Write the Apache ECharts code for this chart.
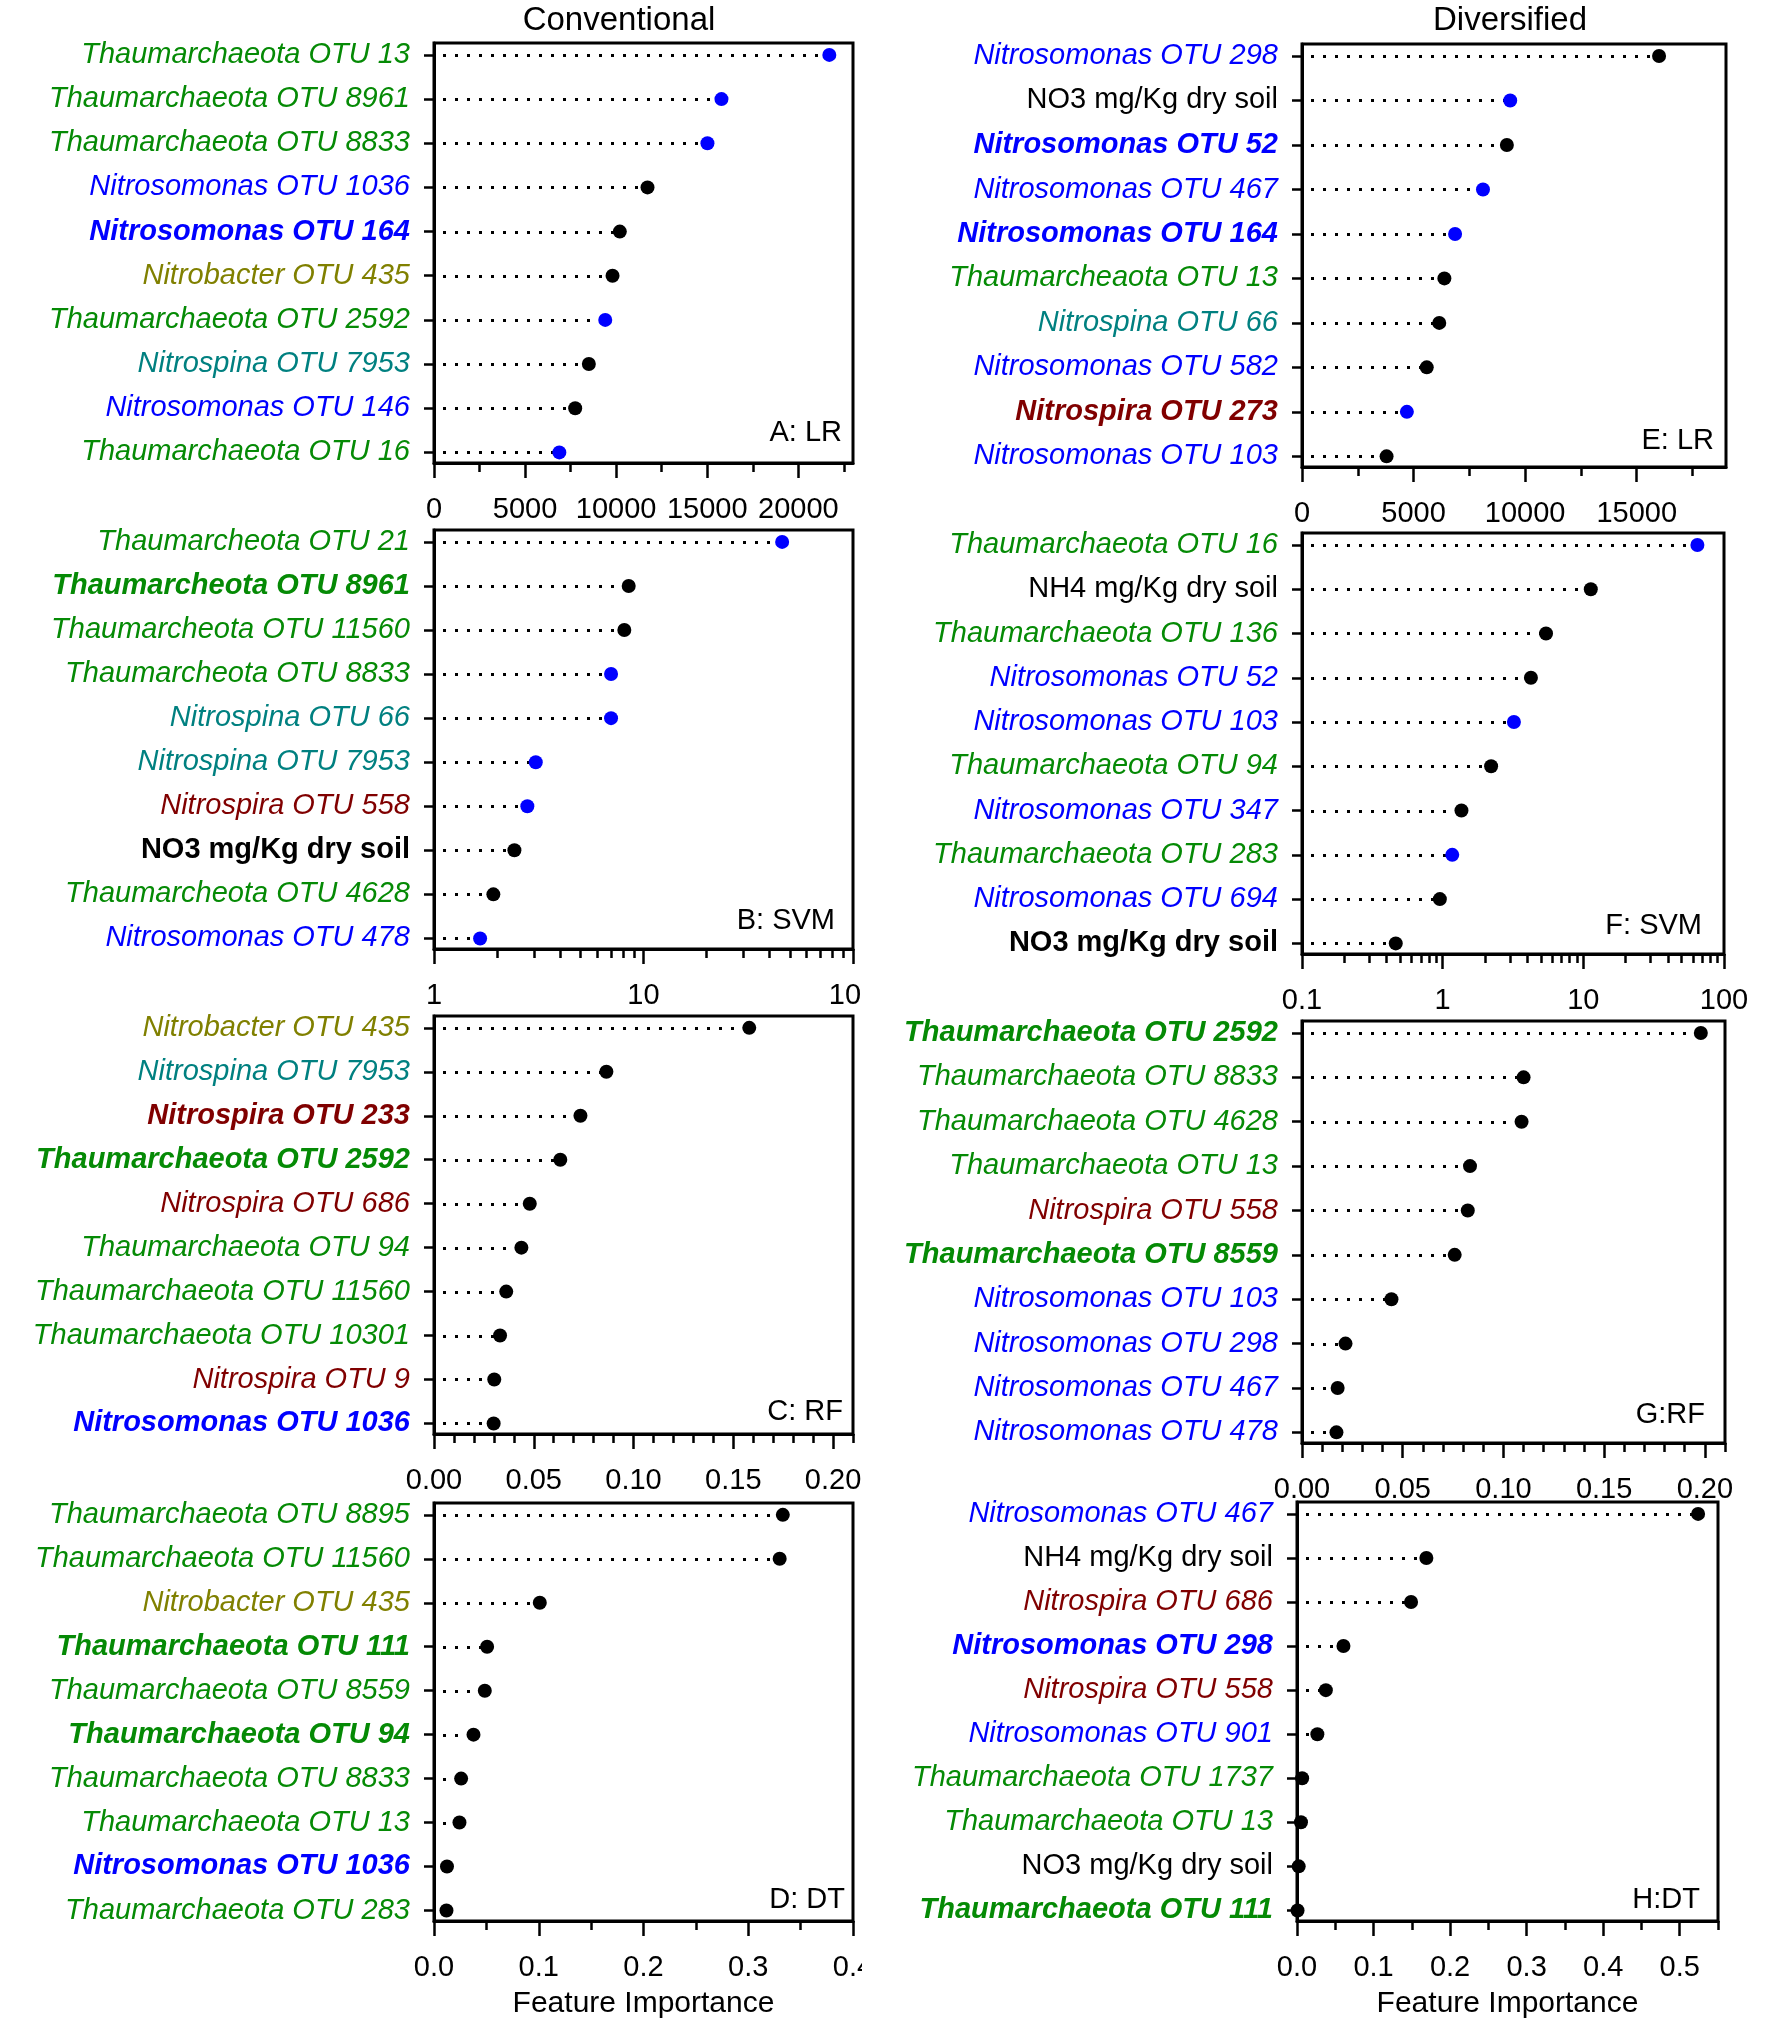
<!DOCTYPE html>
<html><head><meta charset="utf-8">
<script src="https://cdn.jsdelivr.net/npm/echarts@6/dist/echarts.min.js"></script>
<style>html,body{margin:0;padding:0;background:#fff}#c{width:1772px;height:2035px}</style>
</head><body><div id="c"></div>
<script>
// ---------- DATA ----------
// A: Conventional, LR
const labelsA = ['Thaumarchaeota OTU 13','Thaumarchaeota OTU 8961','Thaumarchaeota OTU 8833','Nitrosomonas OTU 1036','Nitrosomonas OTU 164','Nitrobacter OTU 435','Thaumarchaeota OTU 2592','Nitrospina OTU 7953','Nitrosomonas OTU 146','Thaumarchaeota OTU 16'];
const valuesA = [21700,15780,15010,11720,10200,9800,9400,8500,7750,6880];
const dotsA = ['b','b','b','k','k','k','b','k','k','b'];
const boldA = [0,0,0,0,1,0,0,0,0,0];
// E: Diversified, LR
const labelsE = ['Nitrosomonas OTU 298','NO3 mg/Kg dry soil','Nitrosomonas OTU 52','Nitrosomonas OTU 467','Nitrosomonas OTU 164','Thaumarcheaota OTU 13','Nitrospina OTU 66','Nitrosomonas OTU 582','Nitrospira OTU 273','Nitrosomonas OTU 103'];
const valuesE = [16000,9330,9180,8110,6860,6380,6150,5590,4700,3790];
const dotsE = ['k','b','k','b','b','k','k','k','b','k'];
const boldE = [0,0,1,0,1,0,0,0,1,0];
// B: Conventional, SVM (log)
const labelsB = ['Thaumarcheota OTU 21','Thaumarcheota OTU 8961','Thaumarcheota OTU 11560','Thaumarcheota OTU 8833','Nitrospina OTU 66','Nitrospina OTU 7953','Nitrospira OTU 558','NO3 mg/Kg dry soil','Thaumarcheota OTU 4628','Nitrosomonas OTU 478'];
const valuesB = [45.9,8.5,8.1,7.0,7.0,3.06,2.79,2.42,1.92,1.66];
const dotsB = ['b','k','k','b','b','b','b','k','k','b'];
const boldB = [0,1,0,0,0,0,0,1,0,0];
// F: Diversified, SVM (log)
const labelsF = ['Thaumarchaeota OTU 16','NH4 mg/Kg dry soil','Thaumarchaeota OTU 136','Nitrosomonas OTU 52','Nitrosomonas OTU 103','Thaumarchaeota OTU 94','Nitrosomonas OTU 347','Thaumarchaeota OTU 283','Nitrosomonas OTU 694','NO3 mg/Kg dry soil'];
const valuesF = [64.7,11.3,5.43,4.24,3.21,2.21,1.36,1.17,0.955,0.464];
const dotsF = ['b','k','k','k','b','k','k','b','k','k'];
const boldF = [0,0,0,0,0,0,0,0,0,1];
// C: Conventional, RF
const labelsC = ['Nitrobacter OTU 435','Nitrospina OTU 7953','Nitrospira OTU 233','Thaumarchaeota OTU 2592','Nitrospira OTU 686','Thaumarchaeota OTU 94','Thaumarchaeota OTU 11560','Thaumarchaeota OTU 10301','Nitrospira OTU 9','Nitrosomonas OTU 1036'];
const valuesC = [0.158,0.0864,0.0734,0.0633,0.048,0.0438,0.0362,0.0331,0.0302,0.0299];
const dotsC = ['k','k','k','k','k','k','k','k','k','k'];
const boldC = [0,0,1,1,0,0,0,0,0,1];
// G: Diversified, RF
const labelsG = ['Thaumarchaeota OTU 2592','Thaumarchaeota OTU 8833','Thaumarchaeota OTU 4628','Thaumarchaeota OTU 13','Nitrospira OTU 558','Thaumarchaeota OTU 8559','Nitrosomonas OTU 103','Nitrosomonas OTU 298','Nitrosomonas OTU 467','Nitrosomonas OTU 478'];
const valuesG = [0.198,0.110,0.109,0.0834,0.0823,0.0758,0.0444,0.0216,0.0177,0.0171];
const dotsG = ['k','k','k','k','k','k','k','k','k','k'];
const boldG = [1,0,0,0,0,1,0,0,0,0];
// D: Conventional, DT
const labelsD = ['Thaumarchaeota OTU 8895','Thaumarchaeota OTU 11560','Nitrobacter OTU 435','Thaumarchaeota OTU 111','Thaumarchaeota OTU 8559','Thaumarchaeota OTU 94','Thaumarchaeota OTU 8833','Thaumarchaeota OTU 13','Nitrosomonas OTU 1036','Thaumarchaeota OTU 283'];
const valuesD = [0.333,0.330,0.101,0.0507,0.0485,0.0377,0.0259,0.0243,0.0124,0.0119];
const dotsD = ['k','k','k','k','k','k','k','k','k','k'];
const boldD = [0,0,0,1,0,1,0,0,1,0];
// H: Diversified, DT
const labelsH = ['Nitrosomonas OTU 467','NH4 mg/Kg dry soil','Nitrospira OTU 686','Nitrosomonas OTU 298','Nitrospira OTU 558','Nitrosomonas OTU 901','Thaumarchaeota OTU 1737','Thaumarchaeota OTU 13','NO3 mg/Kg dry soil','Thaumarchaeota OTU 111'];
const valuesH = [0.524,0.169,0.149,0.0607,0.0377,0.0266,0.0067,0.0052,0.0022,0.0007];
const dotsH = ['k','k','k','k','k','k','k','k','k','k'];
const boldH = [0,0,0,1,0,0,0,0,0,1];

// tick values / labels
const ticksA = [0,5000,10000,15000,20000];
const minorA = [2500,7500,12500,17500,22500];
const ticksE = [0,5000,10000,15000];
const minorE = [2500,7500,12500,17500];
const ticksB = [1,10,100];
const minorB = [2,3,4,5,6,7,8,9,20,30,40,50,60,70,80,90];
const ticksF = [0.1,1,10,100];
const minorF = [0.2,0.3,0.4,0.5,0.6,0.7,0.8,0.9,2,3,4,5,6,7,8,9,20,30,40,50,60,70,80,90];
const ticksRF = [0,0.05,0.1,0.15,0.2];
const minorRF = [0.01,0.02,0.03,0.04,0.06,0.07,0.08,0.09,0.11,0.12,0.13,0.14,0.16,0.17,0.18,0.19,0.21];
const ticksD = [0,0.1,0.2,0.3,0.4];
const minorD = [0.05,0.15,0.25,0.35];
const ticksH = [0,0.1,0.2,0.3,0.4,0.5];
const minorH = [0.05,0.15,0.25,0.35,0.45,0.55];

const columnTitles = ['Conventional','Diversified'];
const xTitle = 'Feature Importance';

// ---------- LAYOUT / STYLE ----------
const FONT = "'Liberation Sans', Arial, Helvetica, sans-serif";
const fmtInt = v => String(Math.round(v));
const fmt2 = v => v.toFixed(2);
const fmt1 = v => v.toFixed(1);
const fmtLog = v => String(Number(v.toPrecision(6)));

const panels = [
  {labels:labelsA, values:valuesA, dots:dotsA, bold:boldA, ticks:ticksA, minor:minorA, type:'value', min:0, max:23000, fmt:fmtInt, tag:'A: LR', box:[434,43,853,463], tagPos:[842,433]},
  {labels:labelsE, values:valuesE, dots:dotsE, bold:boldE, ticks:ticksE, minor:minorE, type:'value', min:0, max:19000, fmt:fmtInt, tag:'E: LR', box:[1302,44,1726,467], tagPos:[1714,441]},
  {labels:labelsB, values:valuesB, dots:dotsB, bold:boldB, ticks:ticksB, minor:minorB, type:'log', min:1, max:100, fmt:fmtLog, tag:'B: SVM', box:[434,530,853,949], tagPos:[835,921]},
  {labels:labelsF, values:valuesF, dots:dotsF, bold:boldF, ticks:ticksF, minor:minorF, type:'log', min:0.1, max:100, fmt:fmtLog, tag:'F: SVM', box:[1302,533,1724,954], tagPos:[1702,926]},
  {labels:labelsC, values:valuesC, dots:dotsC, bold:boldC, ticks:ticksRF, minor:minorRF, type:'value', min:0, max:0.21, fmt:fmt2, tag:'C: RF', box:[434,1016,853,1434], tagPos:[843,1412]},
  {labels:labelsG, values:valuesG, dots:dotsG, bold:boldG, ticks:ticksRF, minor:minorRF, type:'value', min:0, max:0.21, fmt:fmt2, tag:'G:RF', box:[1302,1021,1725,1443], tagPos:[1705,1415]},
  {labels:labelsD, values:valuesD, dots:dotsD, bold:boldD, ticks:ticksD, minor:minorD, type:'value', min:0, max:0.4, fmt:fmt1, tag:'D: DT', box:[434,1503,853,1921], tagPos:[845,1900], xname:xTitle},
  {labels:labelsH, values:valuesH, dots:dotsH, bold:boldH, ticks:ticksH, minor:minorH, type:'value', min:0, max:0.55, fmt:fmt1, tag:'H:DT', box:[1297,1502,1718,1921], tagPos:[1700,1900], xname:xTitle}
];

const genusColor = {th:'#058a05', ns:'#0000ff', na:'#008080', ra:'#800000', nb:'#808000', ch:'#000000'};
function genusOf(n){
  if (/^Thaum/.test(n)) return 'th';
  if (/^Nitrosomonas/.test(n)) return 'ns';
  if (/^Nitrospina/.test(n)) return 'na';
  if (/^Nitrospira/.test(n)) return 'ra';
  if (/^Nitrobacter/.test(n)) return 'nb';
  return 'ch';
}
const rich = {};
for (const g in genusColor) for (const b of [0,1]) {
  rich[g+b] = {color:genusColor[g], fontSize:29, fontFamily:FONT, fontStyle: g==='ch'?'normal':'italic', fontWeight: b?'bold':'normal'};
}
const dotColor = {b:'#0000ff', k:'#000000'};
const tickStyle = {color:'#000', width:2.5};

const option = {animation:false, backgroundColor:'#fff', grid:[], xAxis:[], yAxis:[], series:[], graphic:[]};

panels.forEach((p,k)=>{
  const [x1,y1,x2,y2] = p.box;
  option.grid.push({left:x1, top:y1, width:x2-x1, height:y2-y1, show:true, borderColor:'#000', borderWidth:3,
    backgroundColor:'rgba(0,0,0,0)', containLabel:false, outerBoundsMode:'none'});
  const base = {gridIndex:k, type:p.type, min:p.min, max:p.max, position:'bottom', splitLine:{show:false}, minorTick:{show:false}, minorSplitLine:{show:false}};
  if (p.type==='log') base.logBase = 10;
  option.xAxis.push(Object.assign({}, base, {
    axisLine:{show:true, onZero:false, lineStyle:{color:'#000', width:3}},
    axisTick:{show:true, length:15, customValues:p.ticks, lineStyle:tickStyle},
    axisLabel:{show:true, customValues:p.ticks, formatter:p.fmt, margin:32, fontSize:29, color:'#000', fontFamily:FONT},
    name:p.xname||'', nameLocation:'middle', nameGap:68, nameTextStyle:{fontSize:30, color:'#000', fontFamily:FONT}
  }));
  option.xAxis.push(Object.assign({}, base, {
    axisLine:{show:false, onZero:false},
    axisTick:{show:true, length:9, customValues:p.minor, lineStyle:tickStyle},
    axisLabel:{show:false}
  }));
  const rows = p.labels.map((_,i)=>i);
  option.yAxis.push({gridIndex:k, type:'value', inverse:true, min:-0.27, max:9.24,
    axisLine:{show:true, onZero:false, lineStyle:{color:'#000', width:3}},
    axisTick:{show:true, length:10, customValues:rows, lineStyle:tickStyle},
    axisLabel:{show:true, customValues:rows, margin:24, rich:rich,
      formatter: v => { const i = Math.round(v); const n = p.labels[i]; return '{' + genusOf(n) + p.bold[i] + '|' + n + '}'; }},
    splitLine:{show:false}});
  option.series.push({type:'custom', xAxisIndex:2*k, yAxisIndex:k, z:2, silent:true,
    data: p.values.map((v,i)=>[v,i]),
    renderItem:(params, api)=>{
      const pt = api.coord([api.value(0), api.value(1)]);
      const x0 = params.coordSys.x;
      return {type:'line', shape:{x1:x0, y1:Math.round(pt[1])+0.5, x2:pt[0], y2:Math.round(pt[1])+0.5},
        style:{stroke:'#000', lineWidth:3, lineDash:[3,9], lineDashOffset:3}};
    }});
  option.series.push({type:'scatter', xAxisIndex:2*k, yAxisIndex:k, z:3, symbol:'circle', symbolSize:14, silent:true,
    data: p.values.map((v,i)=>({value:[v,i], itemStyle:{color:dotColor[p.dots[i]], opacity:1}}))});
  option.graphic.push({type:'text', x:p.tagPos[0], y:p.tagPos[1], z:50,
    style:{text:p.tag, align:'right', verticalAlign:'middle', fontSize:29, fontFamily:FONT, fill:'#000'}});
});

option.graphic.push({type:'text', x:619, y:21, z:50, style:{text:columnTitles[0], align:'center', verticalAlign:'middle', fontSize:33, fontFamily:FONT, fill:'#000'}});
option.graphic.push({type:'text', x:1510, y:21, z:50, style:{text:columnTitles[1], align:'center', verticalAlign:'middle', fontSize:33, fontFamily:FONT, fill:'#000'}});
// left column image edge (the reference crops tick labels at the panel edge)
option.graphic.push({type:'rect', z:60, shape:{x:862, y:968, width:30, height:56}, style:{fill:'#fff'}});
option.graphic.push({type:'rect', z:60, shape:{x:862, y:1940, width:30, height:56}, style:{fill:'#fff'}});

const chart = echarts.init(document.getElementById('c'), null, {renderer:'canvas'});
chart.setOption(option);
</script>
</body></html>
